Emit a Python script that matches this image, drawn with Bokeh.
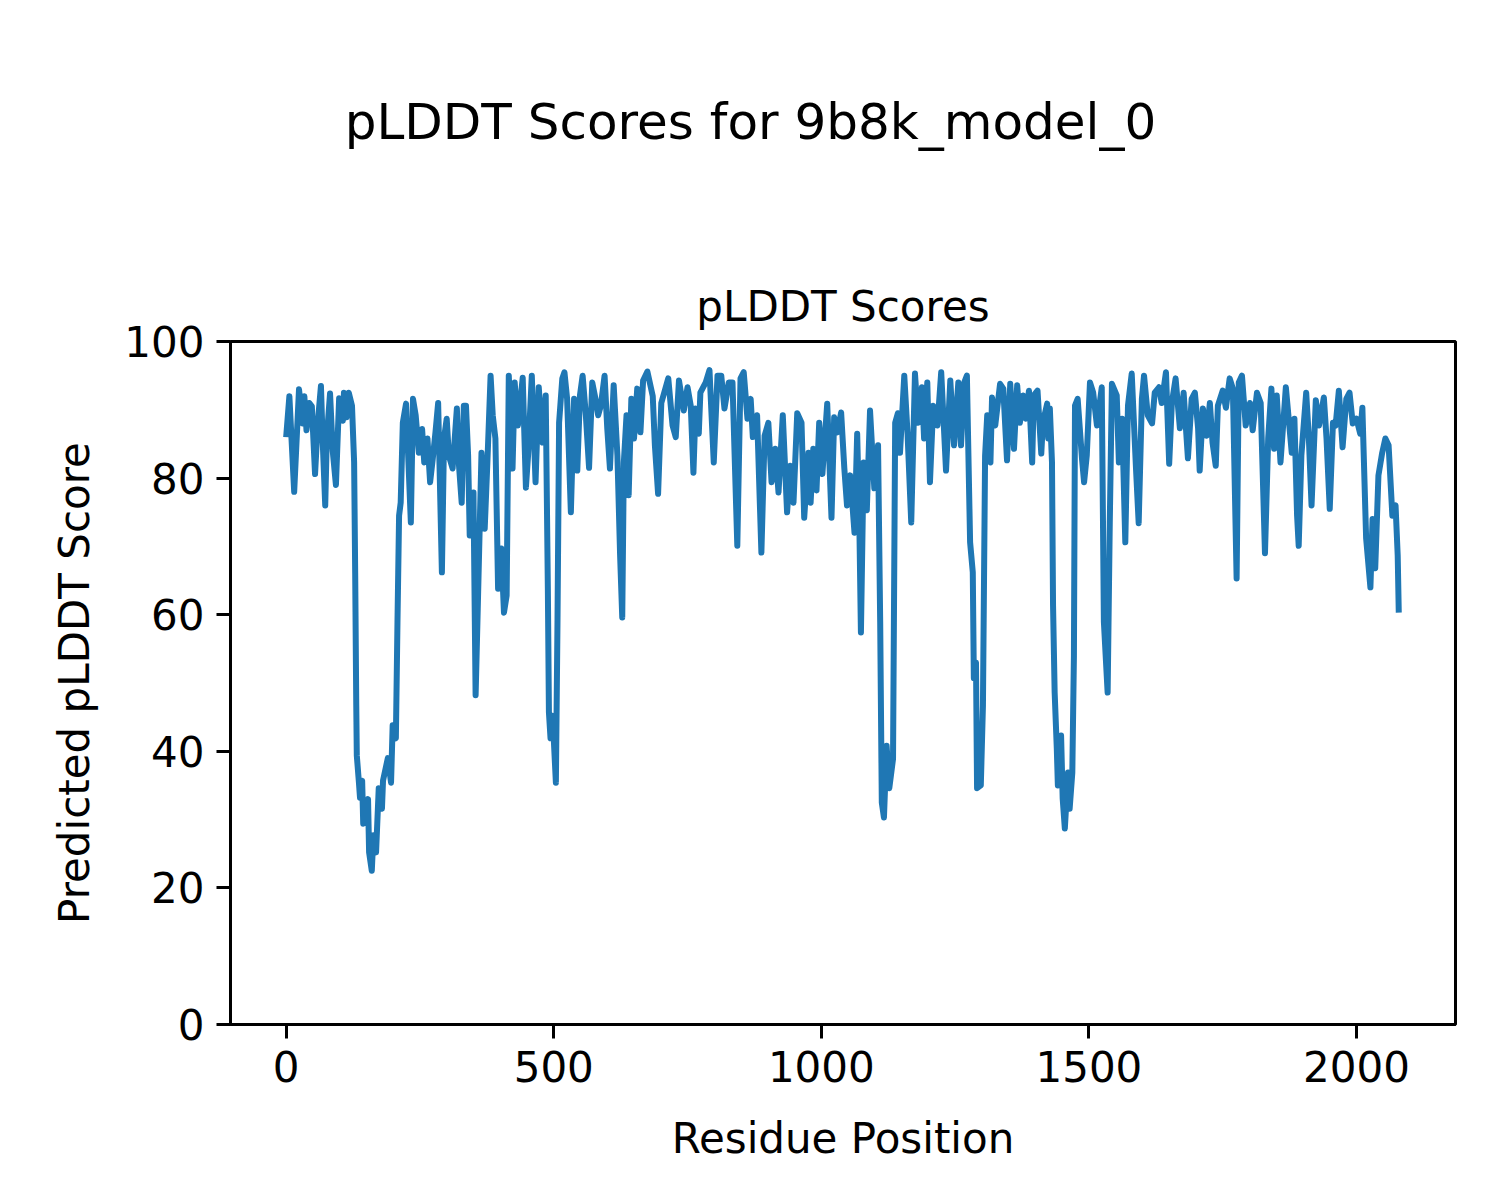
from bokeh.plotting import figure
from bokeh.models import Range1d, Label, FixedTicker
from bokeh.layouts import column
from bokeh.embed import file_html
from bokeh.resources import INLINE

suptitle_text = "pLDDT Scores for 9b8k_model_0"
title_text = "pLDDT Scores"
x_label = "Residue Position"
y_label = "Predicted pLDDT Score"
x_ticks = [0, 500, 1000, 1500, 2000]
y_ticks = [0, 20, 40, 60, 80, 100]

residue = [0, 6, 15, 24, 31, 34, 38, 43, 48, 54, 59, 65, 68, 73, 76, 82, 87, 93, 99, 106, 108, 113, 117, 123, 127, 129, 131, 132, 136, 138, 142, 144, 153, 155, 160, 163, 168, 173, 179, 181, 190, 196, 199, 205, 208, 211, 214, 218, 224, 228, 233, 237, 242, 248, 254, 258, 264, 269, 274, 279, 284, 291, 295, 300, 304, 311, 319, 323, 328, 332,
           336, 340, 343, 350, 354, 358, 365, 371, 376, 382, 386, 391, 396, 402, 407, 412, 416, 423, 427, 433, 442, 448, 452, 459, 466, 472, 479, 485, 489, 491, 494, 498, 504, 507, 510, 516, 520, 525, 532, 538, 544, 549, 554, 560, 566, 572, 578, 583, 588, 595, 600, 605, 612, 619, 624, 628, 631, 636, 640, 645, 650, 656, 662, 667,
           675, 685, 689, 695, 701, 714, 722, 728, 734, 743, 750, 756, 761, 765, 771, 774, 784, 791, 799, 806, 813, 819, 827, 834, 843, 849, 855, 862, 868, 872, 880, 888, 894, 901, 907, 914, 920, 928, 936, 942, 948, 955, 963, 968, 976, 980, 985, 991, 996, 1002, 1011, 1019, 1024,
           1030, 1037, 1043, 1048, 1054, 1062, 1067, 1071, 1074, 1079, 1085, 1091, 1099, 1106, 1110, 1113, 1117, 1122, 1127, 1134, 1138, 1143, 1147, 1155, 1161, 1168, 1175, 1181, 1188, 1192, 1198, 1203, 1209, 1217, 1224, 1233, 1241, 1248, 1256, 1261, 1267, 1272, 1278, 1283, 1285, 1289, 1291, 1298, 1302, 1306, 1310, 1316, 1319, 1325, 1334, 1340, 1347, 1353, 1360, 1366,
           1371, 1377, 1382, 1388, 1394, 1397, 1404, 1411, 1414, 1422, 1424, 1427, 1431, 1433, 1436, 1440, 1442, 1448, 1451, 1455, 1461, 1464, 1469, 1472, 1474, 1479, 1487, 1491, 1496, 1502, 1508, 1515, 1524, 1528, 1535, 1539, 1543, 1552, 1556, 1562, 1568, 1573, 1580, 1588, 1593, 1599, 1603, 1610, 1618, 1623, 1631, 1636, 1644, 1650, 1655, 1662, 1670, 1677, 1685, 1692, 1698, 1704, 1707, 1713,
           1720, 1726, 1731, 1737, 1741, 1750, 1756, 1763, 1769, 1776, 1780, 1786, 1793, 1801, 1806, 1814, 1821, 1829, 1835, 1841, 1846, 1851, 1858, 1868, 1874, 1879, 1884, 1889, 1892, 1897, 1906, 1911, 1916, 1924, 1930, 1939, 1944, 1950, 1956, 1961, 1967, 1974, 1981, 1987, 1993, 2000, 2007, 2011, 2018, 2026, 2030, 2035, 2041, 2048, 2054, 2060, 2067, 2073, 2077, 2079]

plddt = [86, 92, 78, 93, 88, 92, 87, 91, 90.5, 80.6, 88, 93.5, 86, 76, 86, 92.4, 84, 79, 91.7, 88.4, 92.5, 88.9, 92.5, 90.6, 82.3, 66, 46.7, 39.4, 35.4, 33.2, 35.7, 29.4, 33, 25.2, 22.5, 27.7, 25.2, 34.6, 31.6, 35.7, 39, 35.4, 43.8, 41.9, 58.9, 74.5, 76.4, 88.1, 90.9, 83.3, 73.5, 91.6, 89.2, 83.7, 87.2, 82.3, 85.8, 79.4, 82.9, 86.7, 91, 66.2, 85.8, 88.7, 83.3, 81.4, 90.2, 81.8, 76.4, 90.6,
         90.6, 83.3, 71.6, 77.9, 48.2, 60.9, 83.7, 72.6, 82.3, 95, 89.2, 85.8, 63.8, 69.7, 60.3, 62.8, 95, 81.4, 94, 87.7, 94.7, 78.6, 83.3, 95, 79.4, 93.3, 85.2, 92.1, 63.8, 45.7, 41.9, 45.2, 35.4, 58.9, 88.1, 94.6, 95.5, 91.6, 75, 91.6, 81.1, 92.1, 95, 89.2, 81.5, 94, 91.6, 89.2, 90.6, 95, 87.3, 81.4, 93.6, 83.3, 68.7, 59.6, 82.3, 89.2, 77.5, 91.6, 85.8, 93.1, 86.7, 94.3,
         95.6, 92, 84.8, 77.7, 91, 94.6, 87.7, 86, 94.3, 89.9, 93.3, 90.6, 80.8, 90.2, 86.5, 92.5, 94, 95.8, 82.3, 95, 95, 90.2, 94, 94, 70.1, 94.6, 95.5, 88.7, 91.6, 86, 89.2, 69.1, 86.2, 88.1, 79.4, 84.3, 77.9, 89.2, 75, 81.8, 76.4, 89.5, 88.1, 74.2, 83.7, 76.4, 84.3, 78.2, 88.1, 80.6, 90.9, 74.2, 88.9,
         86.7, 89.6, 81.4, 76, 80.4, 72, 86.5, 73.5, 57.4, 82.3, 75.3, 89.9, 78.5, 84.8, 58.9, 32.5, 30.3, 40.8, 34.6, 38.9, 88.1, 89.5, 83.7, 95, 86.7, 73.5, 95.3, 88.1, 93.3, 85.8, 94, 79.4, 90.6, 87.7, 95.5, 81.1, 94.3, 84.8, 94, 84.8, 94, 95, 70.6, 66.2, 50.7, 53, 34.6, 35, 46.7, 83.3, 89.2, 82.3, 91.8, 87.7, 93.8, 93.1, 82.6, 93.8, 84.3, 93.6,
         88.1, 92.1, 88.7, 92.8, 82.3, 92.1, 92.8, 83.6, 88.1, 90.9, 85.8, 90.2, 82.3, 61.3, 48.6, 40.4, 35, 42.3, 33.1, 28.7, 36.9, 31.6, 36.9, 54, 90.6, 91.6, 82.9, 79.4, 83.3, 94, 92.5, 87.7, 93.3, 58.9, 48.6, 73.5, 93.8, 92.1, 82.3, 88.7, 70.6, 90.6, 95.3, 81.4, 73.4, 91.6, 95, 89.2, 88, 92.5, 93.3, 91, 95.5, 82.1, 91, 94.6, 87.3, 92.5, 82.9, 91.6, 92.5, 87.3, 81.1, 90.2,
         86.2, 91, 85.2, 81.8, 90.6, 92.8, 90.3, 94.6, 93.1, 65.3, 94, 95, 87.7, 91, 87, 92.5, 91, 69, 85.8, 93.1, 84.3, 92.1, 82.3, 93.3, 88.1, 83.7, 88.7, 74.5, 70.1, 83.3, 92.5, 85.8, 76, 91.4, 87.7, 91.8, 85.8, 75.5, 88.1, 87.7, 92.8, 84.5, 91.6, 92.5, 88, 88.7, 86.5, 90.3, 71.2, 64, 74, 66.8, 80.4, 83.7, 85.8, 84.8, 74.5, 76, 68.7, 60.3]

FONT = "DejaVu Sans"
TOP_H = 200
FRAME_W = 1225
LEFT_B = 230
RIGHT_B = 29

# --- header strip carrying the figure-level title (frame aligned with main plot) ---
head = figure(frame_width=FRAME_W, frame_height=TOP_H,
              min_border_left=LEFT_B, min_border_right=RIGHT_B, min_border_top=0, min_border_bottom=0,
              x_range=Range1d(0, FRAME_W), y_range=Range1d(0, TOP_H),
              x_axis_location=None, y_axis_location=None,
              output_backend="svg", toolbar_location=None,
              background_fill_color="white", border_fill_color="white",
              outline_line_color=None)
head.xgrid.visible = False
head.ygrid.visible = False
head.add_layout(Label(x=750 - LEFT_B, y=TOP_H - 121, text=suptitle_text,
                      text_align="center", text_baseline="middle", text_font=FONT,
                      text_font_size="50px", text_color="black"))

# --- main plot ---
p = figure(frame_width=FRAME_W, frame_height=683,
           min_border_left=LEFT_B, min_border_right=RIGHT_B, min_border_top=341 - TOP_H, min_border_bottom=160,
           x_range=Range1d(-104, 2185), y_range=Range1d(0, 100),
           output_backend="svg", toolbar_location=None,
           background_fill_color="white", border_fill_color="white")

p.line(residue, plddt, line_color="#1f77b4", line_width=6, line_join="round")

p.title.text = title_text
p.title.align = "center"
p.title.text_font = FONT
p.title.text_font_size = "42px"
p.title.text_font_style = "normal"
p.title.text_color = "black"
p.title.standoff = 22

p.xgrid.visible = False
p.ygrid.visible = False
p.outline_line_color = "black"
p.outline_line_width = 3
p.outline_line_alpha = 1

for ax in (p.xaxis[0], p.yaxis[0]):
    ax.axis_line_width = 3
    ax.axis_line_color = "black"
    ax.major_tick_line_width = 3
    ax.major_tick_line_color = "black"
    ax.major_tick_out = 14
    ax.major_tick_in = 0
    ax.minor_tick_out = 0
    ax.minor_tick_in = 0
    ax.major_label_text_font = FONT
    ax.major_label_text_font_size = "42px"
    ax.major_label_text_color = "black"
    ax.major_label_standoff = 12
    ax.axis_label_text_font = FONT
    ax.axis_label_text_font_size = "42px"
    ax.axis_label_text_font_style = "normal"
    ax.axis_label_text_color = "black"

p.xaxis[0].ticker = FixedTicker(ticks=x_ticks)
p.yaxis[0].ticker = FixedTicker(ticks=y_ticks)
p.xaxis[0].axis_label = x_label
p.yaxis[0].axis_label = y_label
p.xaxis[0].axis_label_standoff = 29
p.yaxis[0].axis_label_standoff = 22

layout = column(head, p, spacing=0)
open("out.html", "w").write(file_html(layout, INLINE))
